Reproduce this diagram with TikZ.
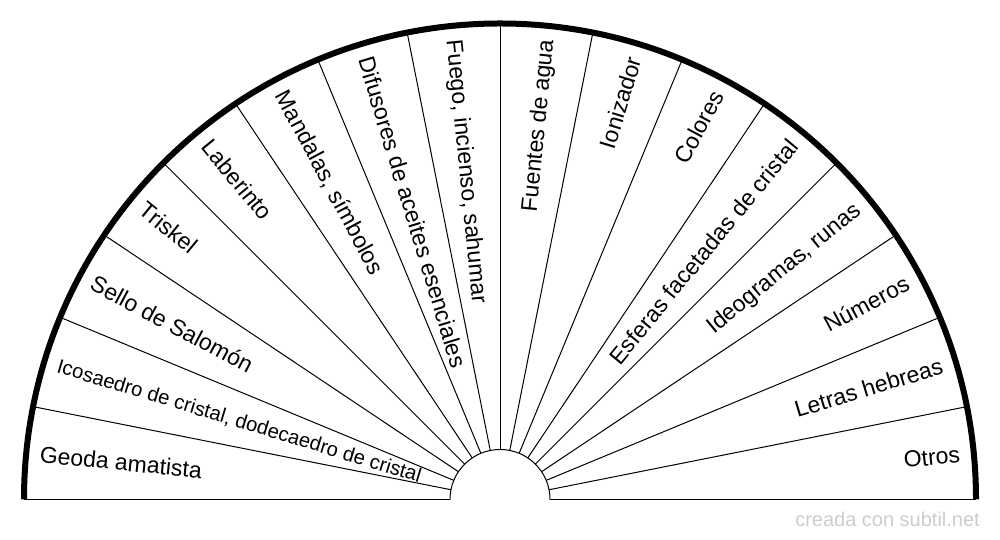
\documentclass[tikz,border=0pt]{standalone}
\usepackage{fontspec}
\setmainfont{Liberation Sans}
\begin{document}
\begin{tikzpicture}[x=1pt,y=1pt,
  lbl/.style={inner sep=0pt, outer sep=0pt, font=\fontsize{23}{27}\selectfont, text height=16.5pt, text depth=0pt},
  lblsmall/.style={lbl, font=\fontsize{20.2}{24}\selectfont, text height=14.5pt},
  lblL/.style={anchor=west},
  lblR/.style={anchor=east},
  ray/.style={line width=1pt, black},
  rim/.style={line width=6pt, black, line cap=butt}]
\useasboundingbox (0,0) rectangle (1000,540);
\begin{scope}[shift={(500,40.5)}]
  \coordinate (O) at (0,0);
  % radial lines
  \foreach \k in {1,...,15} {
    \draw[ray] (\k*11.25:50) -- (\k*11.25:476);
  }
  % base line
  \coordinate (bl) at (-476,0);
  \coordinate (bli) at (-50,0);
  \coordinate (bri) at (50,0);
  \coordinate (br) at (476,0);
  \draw[ray] (bl) -- (bli);
  \draw[ray] (bri) -- (br);
  % inner semicircle
  \draw[ray] (bri) arc[start angle=0, end angle=180, radius=50];
  % outer rim
  \draw[rim] (br) arc[start angle=0, end angle=180, radius=476];
  % labels, left half
  \node[lbl, lblL, rotate=-5.625]  (l1) at (174.375:462) {Geoda amatista};
  \node[lblsmall, lblL, rotate=-16.875] (l2) at (163.125:462) {Icosaedro de cristal, dodecaedro de cristal};
  \node[lbl, lblL, rotate=-28.125] (l3) at (151.875:462) {Sello de Salomón};
  \node[lbl, lblL, rotate=-39.375] (l4) at (140.625:462) {Triskel};
  \node[lbl, lblL, rotate=-50.625] (l5) at (129.375:462) {Laberinto};
  \node[lbl, lblL, rotate=-61.875] (l6) at (118.125:462) {Mandalas, símbolos};
  \node[lbl, lblL, rotate=-73.125] (l7) at (106.875:462) {Difusores de aceites esenciales};
  \node[lbl, lblL, rotate=-84.375] (l8) at (95.625:462) {Fuego, incienso, sahumar};
  % labels, right half
  \node[lbl, lblR, rotate=84.375] (l9) at (84.375:462) {Fuentes de agua};
  \node[lbl, lblR, rotate=73.125] (l10) at (73.125:462) {Ionizador};
  \node[lbl, lblR, rotate=61.875] (l11) at (61.875:462) {Colores};
  \node[lbl, lblR, rotate=50.625] (l12) at (50.625:462) {Esferas facetadas de cristal};
  \node[lbl, lblR, rotate=39.375] (l13) at (39.375:462) {Ideogramas, runas};
  \node[lbl, lblR, rotate=28.125] (l14) at (28.125:462) {Números};
  \node[lbl, lblR, rotate=16.875] (l15) at (16.875:462) {Letras hebreas};
  \node[lbl, lblR, rotate=5.625]  (l16) at (5.625:462) {Otros};
\end{scope}
\definecolor{wm}{HTML}{CCCCCC}
\node[anchor=base east, inner sep=0pt, text=wm, font=\fontsize{20}{24}\selectfont] (credit) at (980,13) {creada con subtil.net};
\end{tikzpicture}
\end{document}
